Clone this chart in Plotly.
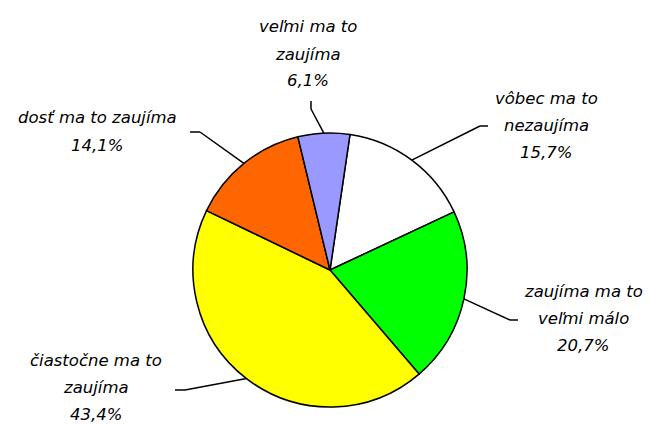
import math
import plotly.graph_objects as go

# Data (clockwise, starting just right of 12 o'clock)
categories = ["vôbec ma to nezaujíma", "zaujíma ma to veľmi málo",
              "čiastočne ma to zaujíma", "dosť ma to zaujíma", "veľmi ma to zaujíma"]
label_lines = [["vôbec ma to", "nezaujíma"],
               ["zaujíma ma to", "veľmi málo"],
               ["čiastočne ma to", "zaujíma"],
               ["dosť ma to zaujíma"],
               ["veľmi ma to", "zaujíma"]]
values = [15.7, 20.7, 43.4, 14.1, 6.1]
colors = ["#FFFFFF", "#00FF00", "#FFFF00", "#FF6600", "#9999FF"]

W, H = 649, 425
CX, CY, R = 330, 270, 137
ROT = 8.4

# label layout (pixel positions of the text line centres, leader elbows/ends)
label_pos = [(546, 98), (583, 291), (96, 360), (97, 118), (308, 27)]
line_gap = 27
elbows = [((480, 126), (488, 126)),
          ((510, 320), (518, 320)),
          ((185, 390), (175, 390)),
          ((200, 132), (190, 132)),
          ((311, 109), (311, 101))]

def px(x):
    return x / W

def py(y):
    return 1 - y / H

fig = go.Figure(go.Pie(
    labels=categories, values=values, sort=False, direction="clockwise",
    rotation=ROT, textinfo="none",
    marker=dict(colors=colors, line=dict(color="#000000", width=1.5)),
    domain=dict(x=[px(CX - R), px(CX + R)], y=[py(CY + R), py(CY - R)]),
    showlegend=False,
))

font = dict(family="DejaVu Sans", size=16.5, color="#000000", style="italic")
annotations = []
shapes = []
total = sum(values)
cum = 0
for i, v in enumerate(values):
    mid = math.radians(ROT + (cum + v / 2) / total * 360)
    cum += v
    ex, ey = CX + R * math.sin(mid), CY - R * math.cos(mid)
    (bx, by), (sx, sy) = elbows[i]
    shapes.append(dict(type="line", xref="paper", yref="paper",
                       x0=px(ex), y0=py(ey), x1=px(bx), y1=py(by),
                       line=dict(color="#000000", width=1.5)))
    shapes.append(dict(type="line", xref="paper", yref="paper",
                       x0=px(bx), y0=py(by), x1=px(sx), y1=py(sy),
                       line=dict(color="#000000", width=1.5)))
    lines = label_lines[i] + [("%.1f" % v).replace(".", ",") + "%"]
    lx, ly = label_pos[i]
    for j, t in enumerate(lines):
        annotations.append(dict(x=px(lx), y=py(ly + j * line_gap), xref="paper", yref="paper",
                                text=t, showarrow=False, xanchor="center", yanchor="middle",
                                font=font))

fig.update_layout(
    width=W, height=H, margin=dict(l=0, r=0, t=0, b=0),
    paper_bgcolor="#FFFFFF", plot_bgcolor="#FFFFFF",
    annotations=annotations, shapes=shapes,
)
fig.write_html("out.html", config={"displayModeBar": False},
               post_script="document.body.style.margin='0';")
